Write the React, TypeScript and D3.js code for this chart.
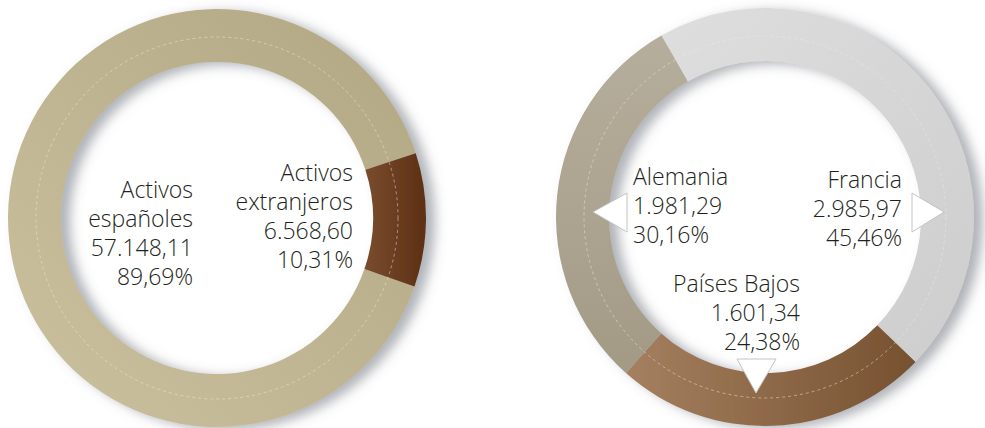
import React from "react";
import * as d3 from "d3";

// ---- Data ----
const leftNames: string[][] = [["Activos", "españoles"], ["Activos", "extranjeros"]];
const leftValues: number[] = [57148.11, 6568.6];
const leftPercents: number[] = [89.69, 10.31];

const rightNames: string[] = ["Francia", "Países Bajos", "Alemania"];
const rightValues: number[] = [2985.97, 1601.34, 1981.29];
const rightPercents: number[] = [45.46, 24.38, 30.16];

// ---- Styles ----
const leftColors = [["#b2a783", "#ccc19f"], ["#7a4c2e", "#5c3014"]];
const rightColors = [["#dedede", "#cdcdcd"], ["#a58060", "#76512f"], ["#b6ae9c", "#a39a86"]];
const leftGradDir = [[1, 0, 0, 1], [0, 0, 1, 0]];
const rightGradDir = [[0, 0, 1, 1], [0, 0, 1, 0], [0, 0, 0, 1]];

const W = 985, H = 428;
const R_OUT = 209, R_IN = 156, R_DASH = 181;
const deg = Math.PI / 180;

const locale = d3.formatLocale({ decimal: ",", thousands: ".", grouping: [3], currency: ["", "€"] });
const fmtNum = locale.format(",.2f");
const fmtPct = (p: number) => locale.format(".2f")(p) + "%";

const FONT = "'Open Sans', 'Noto Sans', sans-serif";
const LH = 29;

function Donut({ cx, cy, values, colors, dirs, start, id }: any) {
  const pie = d3.pie<number>().sort(null).value((d) => d).startAngle(start).endAngle(start + 2 * Math.PI);
  const arc = d3.arc<d3.PieArcDatum<number>>().innerRadius(R_IN).outerRadius(R_OUT);
  const arcs = pie(values);
  return (
    <g transform={`translate(${cx},${cy})`}>
      <defs>
        {arcs.map((a, i) => (
          <linearGradient key={i} id={`${id}-g${i}`} x1={dirs[i][0]} y1={dirs[i][1]} x2={dirs[i][2]} y2={dirs[i][3]}>
            <stop offset="0" stopColor={colors[i][0]} />
            <stop offset="1" stopColor={colors[i][1]} />
          </linearGradient>
        ))}
      </defs>
      <g filter="url(#shadow)">
        {arcs.map((a, i) => (
          <path key={i} d={arc(a) as string} fill={`url(#${id}-g${i})`} />
        ))}
      </g>
      <circle r={R_DASH} fill="none" stroke="#f1ead6" strokeOpacity={0.7} strokeWidth={0.7} strokeDasharray="3 3" />
    </g>
  );
}

function Label({ x, y, lines, anchor }: any) {
  return (
    <text x={x} y={y} textAnchor={anchor} fontFamily={FONT} fontSize={23} fontWeight={300} fill="#231f20">
      {lines.map((l: string, i: number) => (
        <tspan key={i} x={x} dy={i === 0 ? 0 : LH}>{l}</tspan>
      ))}
    </text>
  );
}

export default function App() {
  const lcx = 217, lcy = 218;
  const rcx = 765, rcy = 217;
  const leftStart = 109.1 * deg;
  const rightStart = -29.7 * deg;
  return (
    <svg width={W} height={H} style={{ position: "absolute", left: 0, top: 0, background: "#fff" }}>
      <defs>
        <filter id="shadow" x="-20%" y="-20%" width="140%" height="140%">
          <feDropShadow dx={9} dy={3} stdDeviation={6} floodColor="#5f6670" floodOpacity={0.5} />
        </filter>
      </defs>
      <Donut cx={lcx} cy={lcy} values={leftValues} colors={leftColors} dirs={leftGradDir} start={leftStart} id="l" />
      <Donut cx={rcx} cy={rcy} values={rightValues} colors={rightColors} dirs={rightGradDir} start={rightStart} id="r" />

      {/* Left labels */}
      <Label x={193} y={198} anchor="end" lines={[...leftNames[0], fmtNum(leftValues[0]), fmtPct(leftPercents[0])]} />
      <Label x={353} y={181} anchor="end" lines={[...leftNames[1], fmtNum(leftValues[1]), fmtPct(leftPercents[1])]} />

      {/* Right pointers */}
      <g fill="#fff" stroke="#c4c4c4" strokeWidth={1}>
        <polygon points={`${rcx - 138},${rcy - 24} ${rcx - 138},${rcy + 15} ${rcx - 172},${rcy - 5}`} />
        <polygon points={`${rcx + 147},${rcy - 24} ${rcx + 147},${rcy + 15} ${rcx + 179},${rcy - 5}`} />
        <polygon points={`${rcx - 28},${rcy + 142} ${rcx + 11},${rcy + 142} ${rcx - 9},${rcy + 176}`} />
      </g>

      {/* Right labels */}
      <Label x={633} y={185} anchor="start" lines={[rightNames[2], fmtNum(rightValues[2]), fmtPct(rightPercents[2])]} />
      <Label x={902} y={188} anchor="end" lines={[rightNames[0], fmtNum(rightValues[0]), fmtPct(rightPercents[0])]} />
      <Label x={800} y={292} anchor="end" lines={[rightNames[1], fmtNum(rightValues[1]), fmtPct(rightPercents[1])]} />
    </svg>
  );
}
